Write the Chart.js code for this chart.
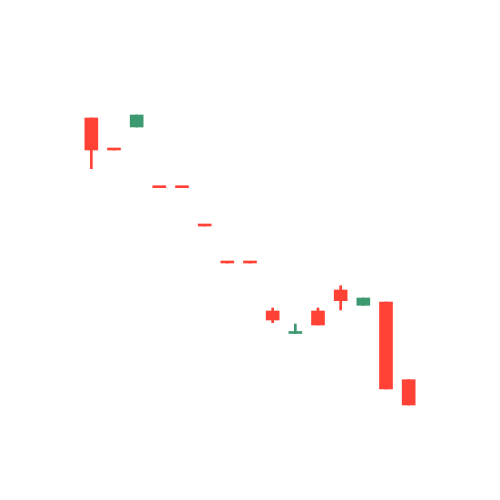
<!DOCTYPE html>
<html>
<head>
<meta charset="utf-8">
<script src="https://cdn.jsdelivr.net/npm/chart.js@4/dist/chart.umd.min.js"></script>
<style>
html,body{margin:0;padding:0;background:#fff;}
#wrap{width:500px;height:500px;}
</style>
</head>
<body>
<div id="wrap"><canvas id="c" width="500" height="500"></canvas></div>
<script>
const categories = ['1','2','3','4','5','6','7','8','9','10','11','12','13','14','15'];
const openVals  = [382, 350, 373, 312.3, 312.3, 274, 237, 237, 189, 166.5, 189, 210, 194.7, 198, 120.3];
const highVals  = [382, 350, 385, 312.3, 312.3, 274, 237, 237, 192, 176, 192, 214.3, 202, 198, 120.3];
const lowVals   = [331.3, 350, 373, 312.3, 312.3, 274, 237, 237, 177.3, 166.5, 175, 190, 194.7, 111, 95];
const closeVals = [350, 350, 385, 312.3, 312.3, 274, 237, 237, 180, 167.5, 175, 199.3, 202, 111, 95];

const UP = '#3D9970', DOWN = '#FF4136';
const colors = categories.map((_, i) => closeVals[i] > openVals[i] ? UP : DOWN);

new Chart(document.getElementById('c'), {
  type: 'bar',
  data: {
    labels: categories,
    datasets: [
      {
        label: 'body',
        data: categories.map((_, i) => [openVals[i], closeVals[i]]),
        backgroundColor: colors,
        borderWidth: 0,
        barThickness: 13,
        minBarLength: 2,
        grouped: false,
        order: 1
      },
      {
        label: 'wick',
        data: categories.map((_, i) => [lowVals[i], highVals[i]]),
        backgroundColor: colors,
        borderWidth: 0,
        barThickness: 2,
        grouped: false,
        order: 2
      }
    ]
  },
  options: {
    responsive: false,
    animation: false,
    layout: { padding: { left: 80, right: 80, top: 0, bottom: 0 } },
    plugins: { legend: { display: false }, tooltip: { enabled: false } },
    scales: {
      x: { display: false, offset: true },
      y: { display: false, min: 0, max: 500 }
    }
  }
});
</script>
</body>
</html>
